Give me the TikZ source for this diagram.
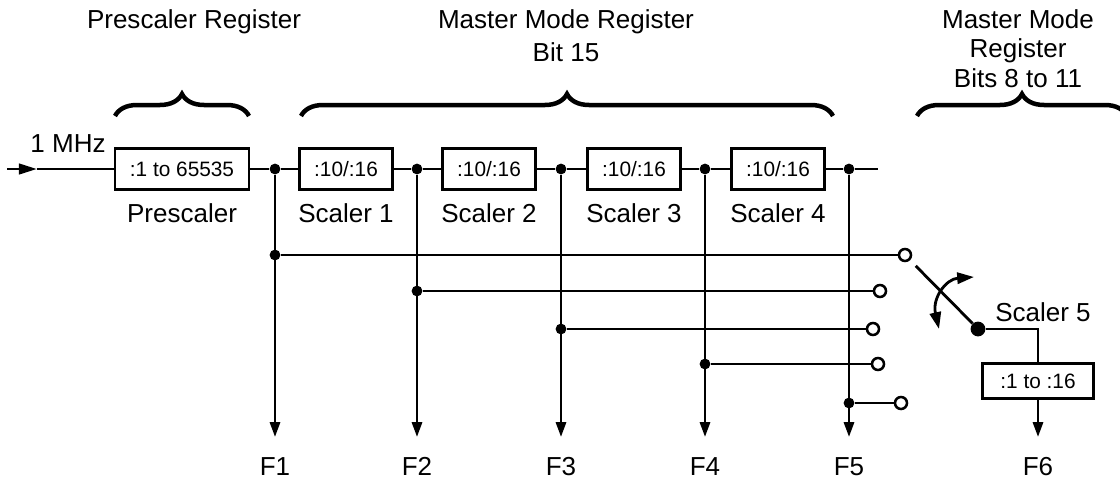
\documentclass[tikz,border=0pt]{standalone}
\usepackage{fontspec}
\setmainfont{Liberation Sans}
\usetikzlibrary{positioning,arrows.meta,decorations.pathreplacing}

\tikzset{
  wire/.style={line width=2pt},
  divbox/.style={draw,line width=2pt,fill=white,minimum height=1.025cm,
    inner sep=0pt,font=\fontsize{14.8}{17}\selectfont},
  dot/.style={circle,fill,inner sep=0pt,minimum size=0.27cm},
  contact/.style={circle,draw,fill=white,line width=1.8pt,inner sep=0pt,minimum size=0.3cm},
  lbl/.style={inner sep=0pt,font=\fontsize{18.5}{21}\selectfont},
  outlbl/.style={lbl,anchor=base},
  outarrow/.style={wire,-{Triangle[length=0.37cm,width=0.25cm]}},
  regbrace/.style={line width=3.2pt,decorate,decoration={brace,amplitude=0.55cm}},
}

\begin{document}
\begin{tikzpicture}[x=0.025cm,y=-0.025cm]
  \useasboundingbox (0,0) rectangle (1120,481);
  % register titles and braces
  \node[lbl,anchor=north] (tpre) at (194,9) {Prescaler Register};
  \node[lbl,anchor=north,align=center] (tmst) at (566,9) {Master Mode Register\\[2.5pt]Bit 15};
  \node[lbl,anchor=north,align=center] (tsel) at (1018,9) {Master Mode\\Register\\Bits 8 to 11};
  \coordinate (bpre1) at (115,116);
  \coordinate (bpre2) at (249,116);
  \coordinate (bmst1) at (301,116);
  \coordinate (bmst2) at (833,116);
  \coordinate (bsel1) at (917,116);
  \coordinate (bsel2) at (1127,116);
  \draw[regbrace] (bpre1) -- (bpre2);
  \draw[regbrace] (bmst1) -- (bmst2);
  \draw[regbrace] (bsel1) -- (bsel2);

  % divider chain
  \coordinate (in) at (7,169);
  \coordinate (inarr) at (37,169);
  \node[lbl] (lin) at (68,144) {1 MHz};
  \node[divbox,minimum width=3.35cm] (pre) at (182,169) {:1 to 65535};
  \node[lbl,below=0.3cm of pre] (lpre) {Prescaler};
  \node[dot] (j1) at (275,169) {};
  \node[divbox,minimum width=2.33cm] (s1) at (346,169) {:10/:16};
  \node[lbl,below=0.3cm of s1] (ls1) {Scaler 1};
  \node[dot] (j2) at (417,169) {};
  \node[divbox,minimum width=2.33cm] (s2) at (489,169) {:10/:16};
  \node[lbl,below=0.3cm of s2] (ls2) {Scaler 2};
  \node[dot] (j3) at (561,169) {};
  \node[divbox,minimum width=2.33cm] (s3) at (634,169) {:10/:16};
  \node[lbl,below=0.3cm of s3] (ls3) {Scaler 3};
  \node[dot] (j4) at (705,169) {};
  \node[divbox,minimum width=2.33cm] (s4) at (778,169) {:10/:16};
  \node[lbl,below=0.3cm of s4] (ls4) {Scaler 4};
  \node[dot] (j5) at (849,169) {};
  \coordinate (mend) at (878,169);
  \draw[wire,-{Triangle[length=0.45cm,width=0.26cm]}] (in) -- (inarr);
  \draw[wire] (inarr) -- (pre);
  \draw[wire] (pre) -- (j1) -- (s1) -- (j2) -- (s2) -- (j3) -- (s3) -- (j4) -- (s4) -- (j5) -- (mend);

  % taps to the selector
  \node[dot] (t1) at (275,255) {};
  \node[dot] (t2) at (417,291) {};
  \node[dot] (t3) at (561,329) {};
  \node[dot] (t4) at (705,364) {};
  \node[dot] (t5) at (849,403) {};
  \node[contact] (c1) at (905,255) {};
  \node[contact] (c2) at (880,291) {};
  \node[contact] (c3) at (873,329) {};
  \node[contact] (c4) at (878,364) {};
  \node[contact] (c5) at (901,403) {};
  \draw[wire] (t1) -- (c1);
  \draw[wire] (t2) -- (c2);
  \draw[wire] (t3) -- (c3);
  \draw[wire] (t4) -- (c4);
  \draw[wire] (t5) -- (c5);

  % outputs
  \coordinate (o1) at (275,437);
  \coordinate (o2) at (417,437);
  \coordinate (o3) at (561,437);
  \coordinate (o4) at (705,437);
  \coordinate (o5) at (849,437);
  \coordinate (o6) at (1038,437);
  \draw[outarrow] (j1) -- (o1);
  \draw[outarrow] (j2) -- (o2);
  \draw[outarrow] (j3) -- (o3);
  \draw[outarrow] (j4) -- (o4);
  \draw[outarrow] (j5) -- (o5);
  \node[outlbl] (f1) at (275,475) {F1};
  \node[outlbl] (f2) at (417,475) {F2};
  \node[outlbl] (f3) at (561,475) {F3};
  \node[outlbl] (f4) at (705,475) {F4};
  \node[outlbl] (f5) at (849,475) {F5};
  \node[outlbl] (f6) at (1038,475) {F6};

  % selector switch and scaler 5
  \node[dot,minimum size=0.37cm] (piv) at (978,329) {};
  \draw[wire,shorten <=0.2cm] (c1) -- (piv);
  \coordinate (rot1) at (974,277);
  \coordinate (rot2) at (939,329);
  \draw[wire,{Triangle[length=0.42cm,width=0.28cm]}-{Triangle[length=0.42cm,width=0.28cm]}]
    (rot1) .. controls (946,279) and (932,298) .. (rot2);
  \node[lbl] (l5) at (1043,312) {Scaler 5};
  \node[divbox,minimum width=2.78cm,minimum height=0.875cm] (s5) at (1038,381) {:1 to :16};
  \draw[wire] (piv) -| (s5);
  \draw[outarrow] (s5) -- (o6);
\end{tikzpicture}
\end{document}
